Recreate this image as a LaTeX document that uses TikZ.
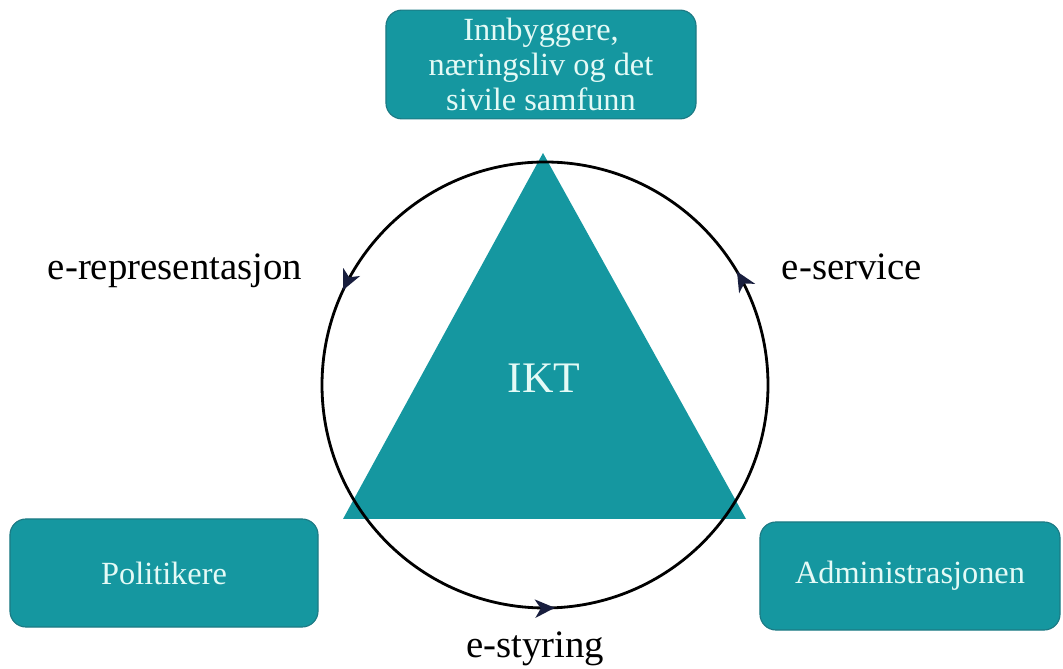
\documentclass[tikz,border=0pt]{standalone}
\usepackage{fontspec}
\setmainfont{Liberation Serif}
\usepackage{xcolor}
\usetikzlibrary{arrows.meta}
\usetikzlibrary{decorations.markings, math}
\definecolor{myteal}{RGB}{21,151,160}
\definecolor{myedge}{RGB}{28,122,132}
\definecolor{mytext}{RGB}{228,250,246}
\definecolor{mynavy}{RGB}{24,30,62}

\tikzset{
  sector/.style={draw=myedge, line width=0.8pt, fill=myteal, rounded corners=0.4cm,
    text=mytext, align=center, font=\fontsize{23}{25}\selectfont, inner sep=0pt},
  channel/.style={anchor=base, font=\fontsize{27.6}{30}\selectfont},
}

\begin{document}
\begin{tikzpicture}[x=0.025cm, y=0.025cm]
\tikzmath{
\R=223;
\cx=545;
\cy=284;
}
\useasboundingbox (0,0) rectangle (1063,669);

\fill[myteal] (543,516) -- (343,150) -- (746,150) -- cycle;
\node[text=mytext, anchor=base, font=\fontsize{31}{33}\selectfont] (ikt) at (544,276) {IKT};

%%%%%%%%%%  cycle
\draw[line width=2pt, decoration={markings,
    mark=at position 0.085 with {\arrow[mynavy]{Stealth[length=14pt, width=13pt, inset=4pt]}},
    mark=at position 0.43 with {\arrow[mynavy]{Stealth[length=14pt, width=13pt, inset=4pt]}},
    mark=at position 0.757 with {\arrow[mynavy]{Stealth[length=14pt, width=13pt, inset=4pt]}}},
    postaction={decorate}] (\cx,\cy) circle[radius=\R];

%%%%%%%%%%  actors
\node[sector, minimum width=7.75cm, minimum height=2.72cm] (innbyggere) at (541,604.5)
  {Innbyggere,\\ næringsliv og det\\ sivile samfunn};
\node[sector, minimum width=7.7cm, minimum height=2.7cm] (politikere) at (164,96) {Politikere};
\node[sector, minimum width=7.5cm, minimum height=2.7cm] (administrasjonen) at (910,93) {Administrasjonen};

%%%%%%%%%%  channels
\node[channel] (erep) at (175,389) {e-representasjon};
\node[channel] (eservice) at (852,389) {e-service};
\node[channel] (estyring) at (535,11) {e-styring};
\end{tikzpicture}
\end{document}
